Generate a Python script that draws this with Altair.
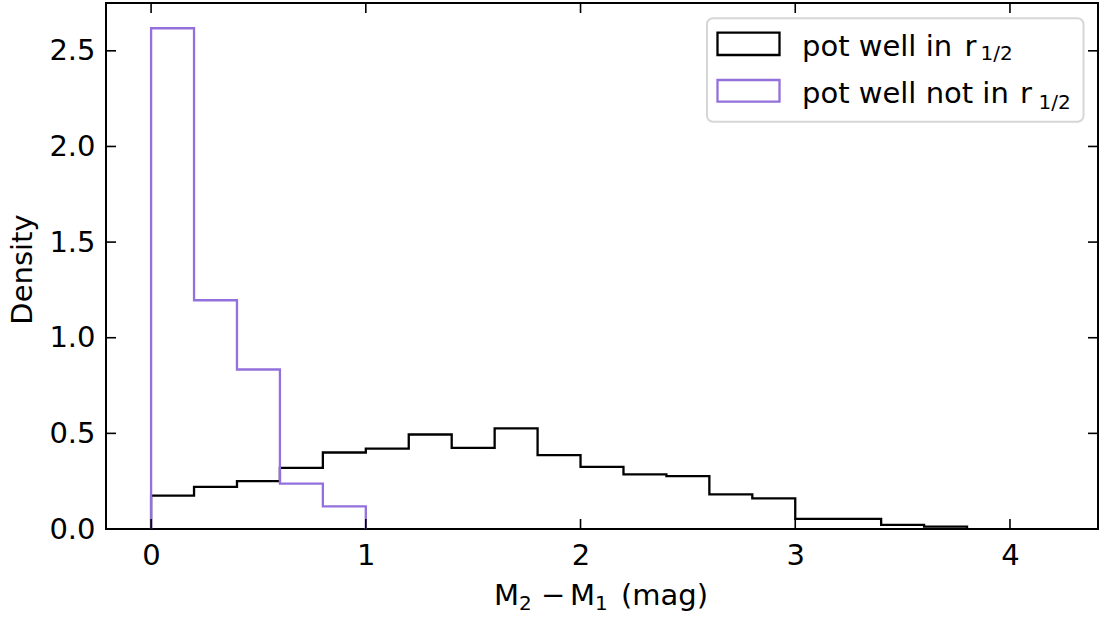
import altair as alt
import pandas as pd

# Histogram bins (width 0.2 mag) and normalised densities for the two samples
bin_edges = [0.0, 0.2, 0.4, 0.6, 0.8, 1.0, 1.2, 1.4, 1.6, 1.8, 2.0,
             2.2, 2.4, 2.6, 2.8, 3.0, 3.2, 3.4, 3.6, 3.8]
density_in = [0.175, 0.22, 0.25, 0.32, 0.40, 0.42, 0.494, 0.424, 0.526, 0.386,
              0.325, 0.286, 0.276, 0.181, 0.16, 0.053, 0.053, 0.022, 0.012]
density_not_in = [2.618, 1.196, 0.834, 0.237, 0.118]

series_names = ["pot well in", "pot well not in"]
series_colors = ["black", "mediumpurple"]
radius_symbol = "r"
radius_sub = "1/2"

x_ticks = [0, 1, 2, 3, 4]
y_ticks = [0.0, 0.5, 1.0, 1.5, 2.0, 2.5]

# x-axis title "M_2 - M_1 (mag)" set piece by piece so the subscripts sit low
x_title_pieces = ["M", "2", "−", "M", "1", "(mag)"]


def step_outline(edges, heights, name):
    """Vertices of an unfilled step histogram (matplotlib histtype='step')."""
    xs, ys = [edges[0]], [0.0]
    for i, h in enumerate(heights):
        xs += [edges[i], edges[i + 1]]
        ys += [h, h]
    xs.append(edges[len(heights)])
    ys.append(0.0)
    return pd.DataFrame({"x": xs, "y": ys, "order": range(len(xs)), "series": name})


df_in = step_outline(bin_edges, density_in, series_names[0])
df_not = step_outline(bin_edges, density_not_in, series_names[1])

W, H = 992, 526
FONT = "DejaVu Sans"
FS = 29
FS_SUB = 20

x_scale = alt.Scale(domain=[-0.21, 4.41], nice=False, zero=False)
y_scale = alt.Scale(domain=[0, 2.75], nice=False, zero=False)

x_axis = alt.Axis(values=x_ticks, ticks=False, tickSize=0, domain=False, grid=False,
                  labelFontSize=FS, labelFont=FONT, labelColor="black", labelPadding=12,
                  format="d", title=None)
y_axis = alt.Axis(values=y_ticks, ticks=False, tickSize=0, domain=False, grid=False,
                  labelFontSize=FS, labelFont=FONT, labelColor="black", labelPadding=11,
                  format=".1f", title="Density", titleFont=FONT, titleFontSize=FS,
                  titleFontWeight="normal", titleColor="black", titleAngle=270,
                  titleBaseline="alphabetic", titleAlign="center", titleX=-75, titleY=266)

X = lambda f: alt.X(f, scale=x_scale, axis=x_axis)
Y = lambda f: alt.Y(f, scale=y_scale, axis=y_axis)


def hist_line(df, color):
    return alt.Chart(df).mark_line(color=color, strokeWidth=2.3, strokeJoin="miter").encode(
        x=X("x:Q"), y=Y("y:Q"), order="order:Q",
    )


line_in = hist_line(df_in, series_colors[0])
line_not = hist_line(df_not, series_colors[1])

# Inward-pointing ticks on all four sides
xt = pd.DataFrame({"x": x_ticks})
yt = pd.DataFrame({"y": y_ticks})
tick_style = dict(color="black", strokeWidth=1.6)
ticks_bottom = alt.Chart(xt).mark_rule(**tick_style).encode(
    x=X("x:Q"), y=alt.value(H), y2=alt.value(H - 10))
ticks_top = alt.Chart(xt).mark_rule(**tick_style).encode(
    x=X("x:Q"), y=alt.value(0), y2=alt.value(10))
ticks_left = alt.Chart(yt).mark_rule(**tick_style).encode(
    y=Y("y:Q"), x=alt.value(0), x2=alt.value(10))
ticks_right = alt.Chart(yt).mark_rule(**tick_style).encode(
    y=Y("y:Q"), x=alt.value(W), x2=alt.value(W - 10))


def label(text, x, y, size):
    d = pd.DataFrame({"t": [text]})
    return alt.Chart(d).mark_text(
        align="left", baseline="alphabetic", font=FONT, fontSize=size, color="black"
    ).encode(text="t:N", x=alt.value(x), y=alt.value(y))


# Legend drawn by hand: frame, outline swatches, labels with subscripts
one = pd.DataFrame({"k": [0]})
legend_box = alt.Chart(one).mark_rect(
    fill="white", fillOpacity=0.8, stroke="#d6d6d6", strokeWidth=2, cornerRadius=6
).encode(x=alt.value(601), x2=alt.value(977.5), y=alt.value(15.3), y2=alt.value(118.7))

swatch_in = alt.Chart(one).mark_rect(
    fill="white", fillOpacity=0, stroke=series_colors[0], strokeWidth=2.3
).encode(x=alt.value(611.5), x2=alt.value(673.5), y=alt.value(29.7), y2=alt.value(52))
swatch_not = alt.Chart(one).mark_rect(
    fill="white", fillOpacity=0, stroke=series_colors[1], strokeWidth=2.3
).encode(x=alt.value(611.5), x2=alt.value(673.5), y=alt.value(77), y2=alt.value(98.7))

legend_text = [
    label(series_names[0], 696, 52.7, FS),
    label(radius_symbol, 858.5, 52.7, FS),
    label(radius_sub, 874.5, 57.4, FS_SUB),
    label(series_names[1], 696, 100.3, FS),
    label(radius_symbol, 914, 100.3, FS),
    label(radius_sub, 932.5, 106.0, FS_SUB),
]

# x-axis title pieces (baseline 602 for full size, 607 for subscripts)
title_x = [388, 413, 435, 464, 489, 515]
title_size = [FS, FS_SUB, FS, FS, FS_SUB, FS]
title_y = [602, 607, 602, 602, 607, 602]
x_title = [label(t, xp, yp, s) for t, xp, yp, s in zip(x_title_pieces, title_x, title_y, title_size)]

chart = alt.layer(
    line_in, line_not,
    ticks_bottom, ticks_top, ticks_left, ticks_right,
    legend_box, swatch_in, swatch_not, *legend_text, *x_title,
).properties(
    width=W, height=H,
    autosize=alt.AutoSizeParams(type="none"),
    padding={"left": 106, "top": 3, "right": 14, "bottom": 88},
).configure(
    background="white",
    view=alt.ViewConfig(stroke="black", strokeWidth=2),
)

chart.save("out.html", embed_options={"renderer": "svg", "actions": False})
